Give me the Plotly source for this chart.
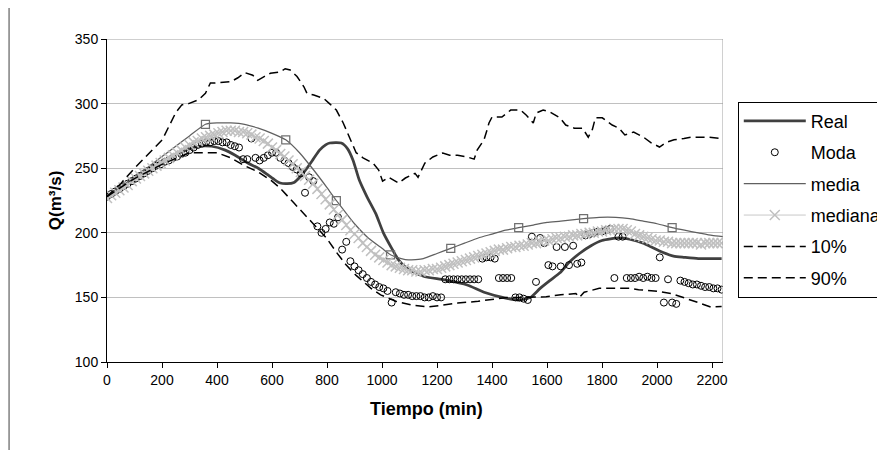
import plotly.graph_objects as go

# time grid (min) used by the two dense marker series
grid_t = list(range(0, 2236, 15))

moda_q = [
    228, 230, 232, 234, 236, 238, 240, 242, 244, 246,
    248, 250, 252, 253, 255, 256, 258, 259, 261, 262,
    264, 266, 268, 269, 270, 270, 271, 271, 270, 270,
    268, 267, 266, 257, 257, 273, 258, 256, 258, 260,
    262, 262, 258, 256, 254, 251, 249, 246, 231, 243,
    240, 205, 200, 203, 208, 207, 212, 187, 193, 178,
    174, 171, 168, 165, 162, 160, 158, 157, 155, 146,
    154, 153, 152, 152, 151, 151, 151, 150, 150, 151,
    150, 150, 164, 164, 164, 164, 164, 164, 164, 164,
    164, 180, 181, 181, 180, 165, 165, 165, 165, 150,
    150, 149, 148, 197, 162, 196, 192, 175, 174, 189,
    174, 189, 175, 190, 176, 177, 198, 199, 200, 201,
    201, 202, 203, 165, 197, 197, 165, 165, 165, 166,
    165, 166, 165, 165, 181, 146, 164, 146, 145, 163,
    162, 161, 160, 160, 159, 158, 158, 157, 157, 156,
]

mediana_q = [
    227, 229, 231, 233, 235, 237, 240, 242, 244, 246,
    248, 250, 252, 254, 256, 258, 260, 262, 264, 266,
    268, 270, 271, 273, 274, 275, 276, 277, 278, 279,
    279, 279, 278, 278, 277, 276, 274, 273, 271, 269,
    266, 264, 261, 259, 256, 253, 250, 247, 244, 241,
    238, 234, 230, 226, 222, 218, 214, 210, 206, 202,
    199, 196, 192, 189, 186, 183, 181, 179, 177, 175,
    174, 173, 172, 171, 171, 170, 170, 171, 171, 172,
    172, 173, 174, 175, 176, 177, 178, 179, 180, 181,
    182, 183, 184, 185, 186, 187, 187, 188, 189, 189,
    190, 190, 191, 192, 192, 193, 194, 194, 195, 196,
    196, 197, 197, 198, 198, 199, 199, 200, 200, 201,
    201, 202, 202, 203, 203, 203, 202, 201, 199, 198,
    197, 196, 195, 194, 194, 193, 193, 192, 192, 192,
    192, 192, 192, 192, 191, 192, 192, 192, 192, 192,
]

real_t = [0, 50, 100, 150, 200, 250, 300, 333, 380, 430, 466, 512, 550, 584, 610,
          630, 655, 680, 705, 727, 750, 773, 795, 810, 852, 875, 895, 917, 945, 977,
          1005, 1038, 1060, 1085, 1120, 1156, 1228, 1310, 1371, 1450, 1504, 1540, 1575,
          1610, 1647, 1680, 1718, 1760, 1800, 1862, 1900, 1950, 1980, 2020, 2060, 2100,
          2150, 2200, 2235]
real_q = [228, 235, 242, 249, 255, 261, 265, 267, 267, 264, 260, 254, 250, 245, 241,
          238.5, 238, 239, 244, 250, 257, 264, 268, 269.5, 269.5, 265, 256, 241, 228, 215,
          200, 187, 179, 173.5, 169, 166, 163.5, 159.6, 154, 149.5, 148, 150, 157,
          163, 169, 177, 184, 190, 194, 196, 195, 192, 189, 185, 182, 181,
          180, 180, 180]

media_t = [0, 50, 100, 150, 200, 250, 300, 358, 400, 450, 500, 550, 600, 650, 700, 750,
           800, 834, 870, 900, 950, 1000, 1031, 1070, 1096, 1150, 1200, 1250, 1300, 1350,
           1400, 1450, 1497, 1550, 1600, 1650, 1733, 1790, 1850, 1900, 1950, 2000, 2055,
           2100, 2150, 2200, 2240]
media_q = [229, 236, 243, 251, 259, 267, 275, 284, 285, 285, 284, 281, 277, 272, 262, 249,
           235, 225, 215, 207, 196, 188, 183, 180, 179, 180, 184, 188, 192, 196,
           199, 202, 204, 206, 208, 209, 211, 212, 212, 211, 209, 207, 204,
           202, 200, 198, 197]
media_sq_t = [358, 650, 834, 1031, 1250, 1497, 1733, 2055]
media_sq_q = [284, 272, 225, 183, 188, 204, 211, 204]

p10_t = [0, 100, 200, 300, 400, 450, 500, 550, 600, 630, 680, 727, 760, 798, 834, 870,
         906, 931, 960, 995, 1050, 1110, 1167, 1220, 1275, 1350, 1454, 1520, 1597, 1650,
         1705, 1718, 1735, 1790, 1850, 1900, 1933, 1990, 2052, 2098, 2150, 2195, 2235]
p10_q = [228, 242, 253, 262, 262, 258, 252, 247, 240, 234.5, 223, 212, 205, 196, 185, 175,
         167, 162, 157, 152, 147, 144, 142.6, 144, 145.6, 147, 150, 150, 150.5, 152,
         153, 150, 154, 157, 157, 157, 156, 155, 153, 150, 146, 142.6, 143]

p90_t = [0, 50, 100, 154, 201, 250, 272, 297, 333, 358, 376, 394, 430, 451, 476, 501, 530,
         548, 573, 594, 630, 648, 666, 691, 716, 727, 752, 788, 809, 834, 859, 870, 906,
         931, 967, 988, 1002, 1024, 1049, 1060, 1085, 1120, 1131, 1156, 1185, 1221, 1246,
         1275, 1310, 1335, 1346, 1371, 1382, 1389, 1400, 1436, 1468, 1504, 1525, 1550,
         1561, 1586, 1611, 1647, 1668, 1700, 1729, 1750, 1765, 1776, 1801, 1837, 1862,
         1883, 1915, 1951, 1980, 2009, 2034, 2062, 2098, 2123, 2159, 2188, 2235]
p90_q = [228, 238, 250, 262, 272, 293, 299, 300, 303, 308, 316, 316, 317, 317, 320, 324, 322,
         318, 321, 323.5, 324.5, 327, 326, 321, 313, 308, 306.6, 304, 300, 295, 285, 279.6, 262,
         258, 254, 248.6, 240, 243, 240, 238.5, 242.4, 246, 243, 254, 258.7, 261.8, 260,
         260, 258.7, 257, 264, 272, 279.6, 285, 289.6, 289.6, 295, 295, 291, 285,
         292.7, 295, 293.5, 289, 283.4, 281, 281, 274, 280, 289, 289, 283.4, 281,
         275.7, 278, 274, 269.5, 266.4, 270, 272, 273, 274, 274, 274, 273]

FONT = "Liberation Sans, Arial, sans-serif"

fig = go.Figure()
fig.add_trace(go.Scatter(x=real_t, y=real_q, name="Real", mode="lines", legendgroup="a",
                         line=dict(color="#404040", width=2.75, shape="spline", smoothing=0.6)))
fig.add_trace(go.Scatter(x=grid_t, y=moda_q, name="Moda", mode="markers", legendgroup="b",
                         marker=dict(symbol="circle-open", size=7, color="black",
                                     line=dict(width=1, color="black"))))
fig.add_trace(go.Scatter(x=media_t, y=media_q, name="media", mode="lines", legendgroup="c",
                         line=dict(color="#606060", width=1.25, shape="spline", smoothing=0.5)))
fig.add_trace(go.Scatter(x=media_sq_t, y=media_sq_q, mode="markers", showlegend=False,
                         legendgroup="c",
                         marker=dict(symbol="square-open", size=8, color="#707070",
                                     line=dict(width=1.25, color="#707070"))))
fig.add_trace(go.Scatter(x=grid_t, y=mediana_q, name="mediana", mode="lines+markers",
                         legendgroup="d",
                         line=dict(color="#c8c8c8", width=1),
                         marker=dict(symbol="x-thin", size=10, color="#c0c0c0",
                                     line=dict(width=1.5, color="#c0c0c0"))))
fig.add_trace(go.Scatter(x=p10_t, y=p10_q, name="10%", mode="lines", legendgroup="e",
                         line=dict(color="black", width=1.5, dash="9px,5px")))
fig.add_trace(go.Scatter(x=p90_t, y=p90_q, name="90%", mode="lines", legendgroup="f",
                         line=dict(color="black", width=1.5, dash="9px,5px")))

axis_common = dict(showline=True, linecolor="black", linewidth=1, ticks="outside",
                   ticklen=5, tickcolor="black", zeroline=False,
                   tickfont=dict(family=FONT, size=14, color="black"))
fig.update_xaxes(range=[0, 2240], tick0=0, dtick=200, showgrid=False, **axis_common)
fig.update_yaxes(range=[100, 350], tick0=100, dtick=50, showgrid=True,
                 gridcolor="#c0c0c0", gridwidth=1, **axis_common)

# grey plot-area frame on top/right, chart-area border on the left
fig.add_shape(type="line", xref="x", yref="y", x0=0, x1=2240, y0=350, y1=350,
              line=dict(color="#a0a0a0", width=1))
fig.add_shape(type="line", xref="x", yref="y", x0=2240, x1=2240, y0=100, y1=350,
              line=dict(color="#a0a0a0", width=1))
fig.add_shape(type="line", xref="paper", yref="paper", x0=-0.159, x1=-0.159, y0=-0.3, y1=1.2,
              line=dict(color="#404040", width=1))

fig.add_annotation(text="<b>Tiempo (min)</b>", xref="paper", yref="paper", x=0.519, y=-0.183,
                   showarrow=False, font=dict(family=FONT, size=18, color="black"))
fig.add_annotation(text="<b>Q(m³/s)</b>", xref="paper", yref="paper", x=-0.102, y=0.5,
                   textangle=-90, showarrow=False, font=dict(family=FONT, size=17, color="black"))

# the page has an 8px body margin, so margins are 8px smaller than the target offsets
fig.update_layout(
    width=885, height=450, autosize=False,
    margin=dict(l=99, r=170, t=31, b=96, autoexpand=False),
    plot_bgcolor="white", paper_bgcolor="white",
    font=dict(family=FONT, color="black"),
    legend=dict(x=1.024, y=0.806, xanchor="left", yanchor="top",
                bordercolor="black", borderwidth=1, bgcolor="white",
                font=dict(family=FONT, size=18, color="black"),
                itemwidth=62, tracegroupgap=5, traceorder="grouped"),
)

fig.write_html("out.html")
